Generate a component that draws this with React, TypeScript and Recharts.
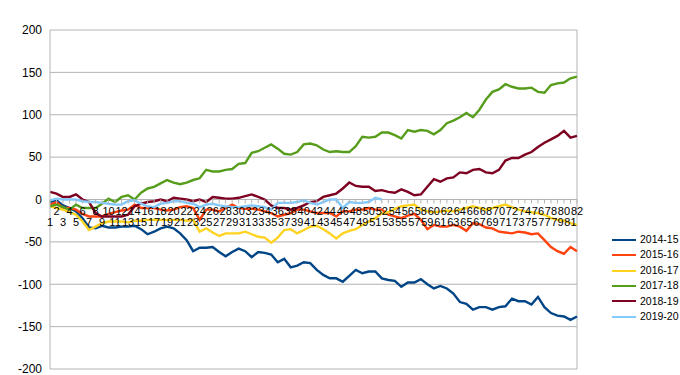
import React from 'react';
import { LineChart, Line, XAxis, YAxis, CartesianGrid, ReferenceLine } from 'recharts';

const days = Array.from({ length: 82 }, (_, i) => i + 1);

const s1415 = [
    -3, -1, -7, -10, -14, -22, -33, -34, -31, -33, -33, -32, -32, -31, -35, -41, -38, -34, -32, -34,
    -40, -48, -61, -57, -57, -56, -62, -67, -62, -58, -61, -68, -62, -63, -65, -74, -70, -80, -78, -74,
    -75, -83, -89, -93, -93, -97, -90, -83, -87, -85, -85, -93, -95, -96, -103, -98, -98, -94, -100, -105,
    -102, -105, -111, -121, -123, -130, -127, -127, -130, -127, -126, -117, -120, -120, -124, -115, -127, -134, -137, -138,
    -142, -138,
];
const s1516 = [
    -6, -3, -10, -10, -12, -17, -20, -20, -20, -17, -15, -13, -12, -6, -10, -10, -10, -12, -13, -12,
    -9, -8, -10, -24, -12, -12, -14, -10, -6, -10, -11, -11, -12, -14, -16, -20, -18, -16, -12, -12,
    -14, -16, -16, -16, -20, -14, -14, -12, -12, -10, -12, -12, -18, -20, -22, -19, -17, -24, -35, -30,
    -32, -32, -30, -32, -37, -28, -29, -33, -34, -38, -39, -40, -38, -39, -41, -40, -48, -56, -61, -64,
    -56, -61,
];
const s1617 = [
    -8, -10, -12, -15, -18, -26, -36, -32, -28, -26, -26, -26, -27, -25, -25, -24, -24, -24, -24, -24,
    -24, -25, -24, -38, -34, -39, -43, -40, -40, -40, -38, -41, -44, -45, -51, -45, -36, -35, -40, -36,
    -32, -31, -35, -40, -46, -40, -37, -35, -30, -26, -22, -16, -15, -11, -8, -7, -6, -12, -14, -15,
    -14, -13, -14, -12, -10, -8, -10, -12, -10, -8, -6, -9, -12, -14, -15, -16, -18, -22, -24, -25,
    -28, -30,
];
const s1718 = [
    -8, -6, -9, -12, -6, -10, -10, -10, -5, 1, -3, 3, 5, 0, 8, 13, 15, 19, 23, 20,
    18, 20, 23, 25, 35, 33, 33, 35, 36, 42, 43, 55, 57, 61, 65, 60, 54, 53, 56, 65,
    66, 64, 59, 56, 57, 56, 56, 63, 74, 73, 74, 79, 79, 76, 72, 82, 80, 82, 81, 77,
    82, 90, 93, 97, 102, 97, 106, 118, 127, 130, 136, 133, 131, 131, 132, 127, 126, 135, 137, 138,
    143, 145,
];
const s1819 = [
    9, 7, 3, 3, 6, 0, -3, -16, -20, -20, -20, -20, -18, -8, -5, -3, -2, 0, -2, 2,
    1, 0, -2, 0, -3, 3, 2, 1, 1, 2, 4, 6, 3, 0, -7, -10, -10, -12, -10, -7,
    -3, -2, 3, 5, 7, 13, 20, 16, 15, 15, 10, 11, 9, 8, 12, 9, 5, 6, 15, 24,
    21, 25, 26, 32, 31, 35, 36, 32, 31, 35, 46, 49, 49, 53, 56, 62, 67, 71, 75, 81,
    73, 75,
];
const s1920 = [
    -1, 1, 0, 0, 0, -2, -3, -3, -4, -5, -6, -6, -2, -1, -5, -8, -9, -5, -4, -2,
    -2, -4, -5, -9, -6, -5, -7, -8, -9, -9, -8, -7, -8, -9, -12, -4, -4, -4, -3, -1,
    -4, -6, -3, 0, 0, -10, -3, -4, -4, -3, 2, 0,
];

const yTicks = [-200, -150, -100, -50, 0, 50, 100, 150, 200];

const series = [
    { key: '2014-15', values: s1415, color: '#004586' },
    { key: '2015-16', values: s1516, color: '#ff420e' },
    { key: '2016-17', values: s1617, color: '#ffd320' },
    { key: '2017-18', values: s1718, color: '#579d1c' },
    { key: '2018-19', values: s1819, color: '#7e0021' },
    { key: '2019-20', values: s1920, color: '#83caff' },
];

const data = days.map((d, i) => {
    const row: Record<string, number | null> = { day: d };
    series.forEach((s) => {
        row[s.key] = i < s.values.length ? s.values[i] : null;
    });
    return row;
});

const FONT = '"Liberation Sans", Arial, sans-serif';
const TOP = 30;
const BOTTOM = 5;
const XH = 1;
const H = 375;
const ZERO_Y = TOP + (H - TOP - BOTTOM - XH) / 2;

// day labels sit on the zero line, staggered over two rows like the original
const DayTick = (props: any) => {
    const { x, payload } = props;
    const odd = Number(payload.value) % 2 === 1;
    return (
        <g>
            <line x1={x} x2={x} y1={ZERO_Y} y2={ZERO_Y + 4} stroke="#b3b3b3" />
            <text x={x} y={ZERO_Y + (odd ? 26 : 15)} textAnchor="middle" fontSize={11} fill="#000" fontFamily={FONT}>
                {payload.value}
            </text>
        </g>
    );
};

export default function App() {
    return (
        <div style={{ position: 'relative', width: 680, height: 375, fontFamily: FONT }}>
            <style>{'body{margin:0}'}</style>
            <LineChart width={680} height={375} data={data} margin={{ top: TOP, right: 103, bottom: BOTTOM, left: 0 }}>
                <CartesianGrid vertical={false} stroke="#b3b3b3" />
                <XAxis
                    dataKey="day"
                    height={XH}
                    interval={0}
                    axisLine={false}
                    tickLine={false}
                    tick={DayTick}
                />
                <YAxis
                    domain={[-200, 200]}
                    ticks={yTicks}
                    interval={0}
                    width={50}
                    axisLine={{ stroke: '#b3b3b3' }}
                    tickLine={false}
                    tick={{ fontSize: 12, fill: '#000', fontFamily: FONT }}
                />
                <ReferenceLine x={82} stroke="#b3b3b3" />
                {series.map((s) => (
                    <Line
                        key={s.key}
                        type="linear"
                        dataKey={s.key}
                        stroke={s.color}
                        strokeWidth={2.4}
                        dot={false}
                        isAnimationActive={false}
                    />
                ))}
            </LineChart>
            <div style={{ position: 'absolute', left: 612, top: 232, fontSize: 10.5, lineHeight: '15.4px' }}>
                {series.map((s) => (
                    <div key={s.key} style={{ display: 'flex', alignItems: 'center', whiteSpace: 'nowrap' }}>
                        <svg width={24} height={6} style={{ marginRight: 4 }}>
                            <line x1={0} x2={24} y1={3} y2={3} stroke={s.color} strokeWidth={2} />
                        </svg>
                        <span>{s.key}</span>
                    </div>
                ))}
            </div>
        </div>
    );
}
